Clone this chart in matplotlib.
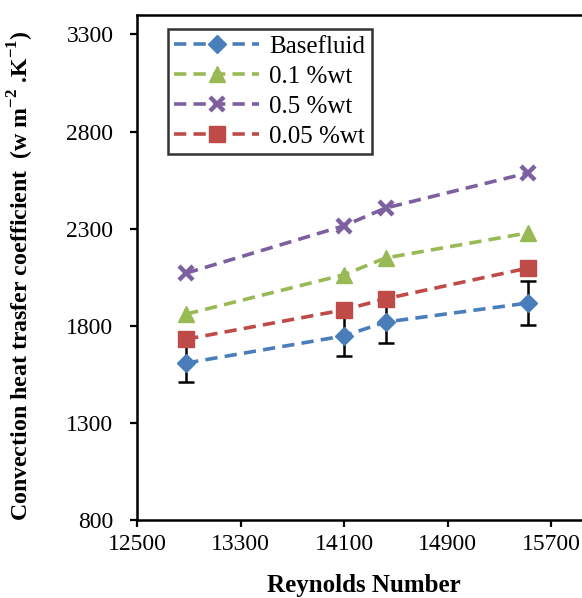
import matplotlib
matplotlib.use("Agg")
import matplotlib.pyplot as plt
from matplotlib.ticker import FixedLocator

plt.rcParams['font.family'] = ['Liberation Serif', 'DejaVu Serif']
plt.rcParams['mathtext.fontset'] = 'custom'
plt.rcParams['mathtext.rm'] = 'Liberation Serif'
plt.rcParams['mathtext.bf'] = 'Liberation Serif:bold'

reynolds = [12880, 14100, 14420, 15520]
basefluid = [1608, 1748, 1819, 1917]
basefluid_err = [96, 105, 109, 115]
wt_01 = [1860, 2063, 2149, 2278]
wt_05 = [2071, 2315, 2406, 2587]
wt_005 = [1731, 1882, 1939, 2097]

x_ticks = [12500, 13300, 14100, 14900, 15700]
y_ticks = [800, 1300, 1800, 2300, 2800, 3300]

W, H = 582, 598
fig = plt.figure(figsize=(W / 100, H / 100), dpi=100)
left, bottom = 137 / W, 78 / H
ax = fig.add_axes([left, bottom, 453 / W, (520 - 15) / H])

dash = (0, (3.4, 2.0))
lw = 2.6
ax.errorbar(reynolds, basefluid, yerr=basefluid_err, fmt='none',
            ecolor='black', elinewidth=1.8, capsize=5.5, capthick=1.8, zorder=1)
ax.plot(reynolds, basefluid, color='#4a7ebb', linestyle=dash, lw=lw,
        marker='D', markersize=9, label='Basefluid', zorder=3)
ax.plot(reynolds, wt_01, color='#98b954', linestyle=dash, lw=lw,
        marker='^', markersize=11, label='0.1 %wt', zorder=3)
ax.plot(reynolds, wt_05, color='#7d60a0', linestyle=dash, lw=lw,
        marker='x', markersize=10, markeredgewidth=3.2, label='0.5 %wt', zorder=3)
ax.plot(reynolds, wt_005, color='#be4b48', linestyle=dash, lw=lw,
        marker='s', markersize=11, label='0.05 %wt', zorder=2)

ax.set_xlim(12500, 16000)
ax.set_ylim(800, 3400)
ax.xaxis.set_major_locator(FixedLocator(x_ticks))
ax.yaxis.set_major_locator(FixedLocator(y_ticks))
ax.tick_params(axis='both', direction='out', length=5, width=1.6,
               labelsize=17, colors='black')
ax.tick_params(axis='y', pad=12)
ax.tick_params(axis='x', pad=5)
for side in ('left', 'bottom', 'top', 'right'):
    ax.spines[side].set_linewidth(1.8)

ax.set_xlabel('Reynolds Number', fontsize=18, fontweight='bold', labelpad=14)
ax.set_ylabel(r'Convection heat trasfer coefficient  (w m$^{\mathbf{-2}}$ .K$^{\mathbf{-1}}$)',
              fontsize=17.2, fontweight='bold')
ax.yaxis.set_label_coords(-0.222, 0.484)

leg = ax.legend(loc='upper left', bbox_to_anchor=(31 / 453, 1 - 14 / 505),
                fontsize=18, frameon=True, fancybox=False, edgecolor='black',
                handlelength=3.4, borderpad=0.25, labelspacing=0.3,
                handletextpad=0.4, borderaxespad=0)
leg.get_frame().set_linewidth(1.8)

fig.savefig('out.png', dpi=100)
